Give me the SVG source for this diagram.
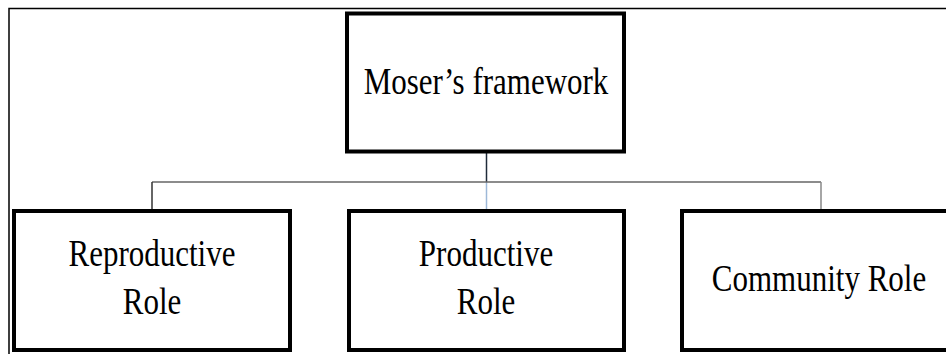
<svg xmlns="http://www.w3.org/2000/svg" width="946" height="354" viewBox="0 0 946 354">
<style>
.box{fill:#fff;stroke:#000;stroke-width:4}
.lbl{font-family:"Liberation Serif","Times New Roman",serif;font-size:31px;fill:#000;text-anchor:middle}
.frame{fill:none;stroke:#000;stroke-width:1.5}
</style>
<rect width="946" height="354" fill="#fff"/>
<path class="frame" d="M9,354 V8.5 H946"/>
<g id="connectors" fill="none">
<line x1="486.5" y1="153" x2="486.5" y2="182" stroke="#1f2b3a" stroke-width="1.5"/>
<line x1="486.5" y1="182" x2="486.5" y2="209" stroke="#9db8d8" stroke-width="1.5"/>
<line x1="152" y1="182" x2="821" y2="182" stroke="#666" stroke-width="1.5"/>
<line x1="152" y1="182" x2="152" y2="209" stroke="#333" stroke-width="1.5"/>
<line x1="821" y1="182" x2="821" y2="209" stroke="#888" stroke-width="1.5"/>
</g>
<g id="moser">
<rect class="box" x="347" y="13.5" width="277" height="138"/>
<text class="lbl" transform="translate(486,94) scale(1,1.2)">Moser’s framework</text>
</g>
<g id="reproductive">
<rect class="box" x="14" y="211" width="276" height="139"/>
<text class="lbl" transform="translate(152,266) scale(1,1.2)">Reproductive</text>
<text class="lbl" transform="translate(152,314) scale(1,1.2)">Role</text>
</g>
<g id="productive">
<rect class="box" x="349" y="211" width="275" height="139"/>
<text class="lbl" transform="translate(486,266) scale(1,1.2)">Productive</text>
<text class="lbl" transform="translate(486,314) scale(1,1.2)">Role</text>
</g>
<g id="community">
<rect class="box" x="682" y="211" width="300" height="139"/>
<text class="lbl" transform="translate(819,291) scale(1,1.2)">Community Role</text>
</g>
</svg>
